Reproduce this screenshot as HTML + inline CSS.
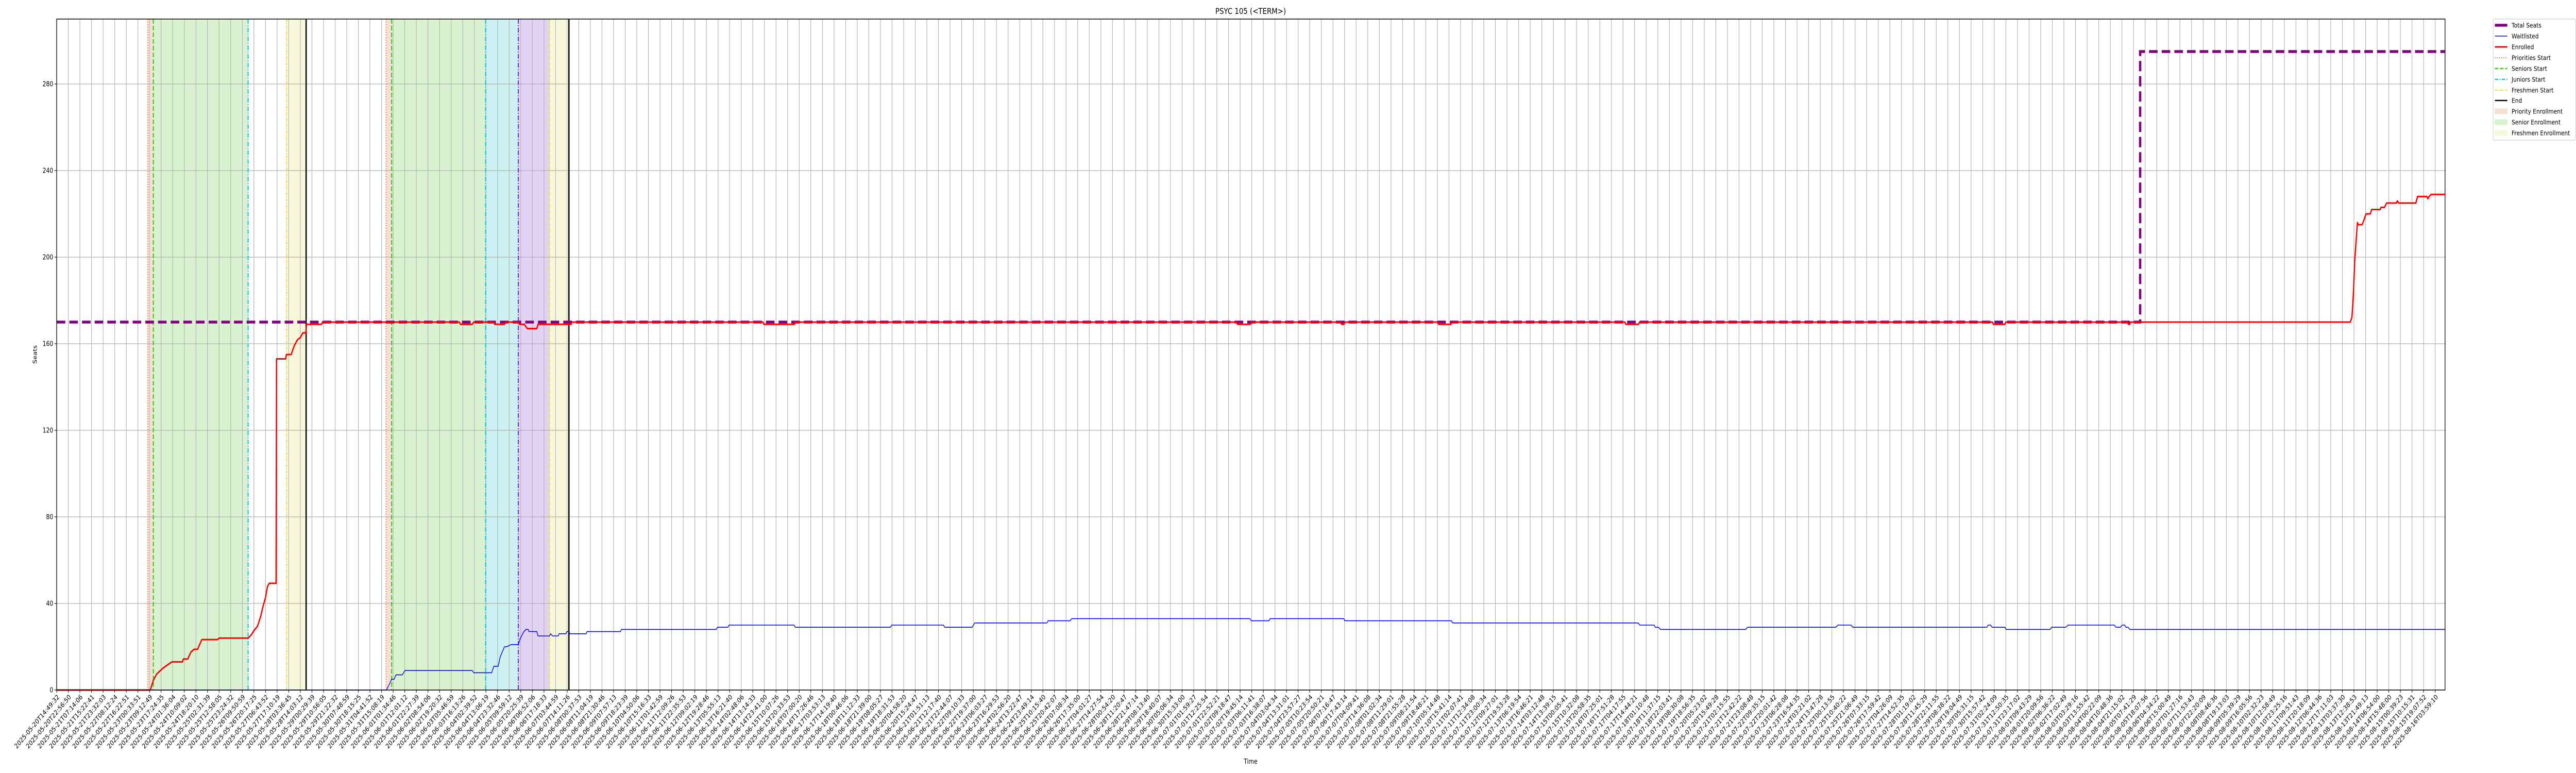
<!DOCTYPE html>
<html><head><meta charset="utf-8"><title>PSYC 105 (&lt;TERM&gt;)</title>
<style>
html,body{margin:0;padding:0;background:#fff;width:100%;height:100%;overflow:hidden;}
svg{display:block;position:absolute;left:0;top:0;width:100vw;height:100vh;font-family:"DejaVu Sans","Liberation Sans",sans-serif;}
</style></head>
<body>
<svg id="chart" viewBox="0 0 6000 1500" preserveAspectRatio="none" overflow="hidden" xmlns="http://www.w3.org/2000/svg">
<rect width="6000" height="1500" fill="#fff"/>
<g id="shades"></g><g id="grid"></g><g id="vlines"></g><g id="series"></g><g id="axes"></g><g id="legend"></g>
<text x="2913" y="27" font-size="16" text-anchor="middle">PSYC 105 (&lt;TERM&gt;)</text>
<text x="86" y="688" font-size="13" text-anchor="middle" transform="rotate(-90 86 688)">Seats</text>
<text x="2913" y="1482" font-size="13" text-anchor="middle">Time</text>
</svg>
<script>
// ---- data ----
const tickStartLabels = ["2025-05-20T14:49:32","2025-05-20T22:56:50","2025-05-21T07:14:06","2025-05-21T15:22:41","2025-05-21T23:32:03","2025-05-22T08:12:24","2025-05-22T16:22:51","2025-05-23T00:33:51","2025-05-23T09:12:49","2025-05-23T17:24:35","2025-05-24T01:36:04","2025-05-24T10:09:02","2025-05-24T18:20:10","2025-05-25T02:31:39"];
const tickEndLabels = ["2025-08-13T03:37:30","2025-08-13T12:38:53","2025-08-13T21:49:13","2025-08-14T06:54:00","2025-08-14T15:48:00","2025-08-15T00:39:23","2025-08-15T10:15:31","2025-08-15T19:07:52","2025-08-16T03:59:10"];
const tickCount = 206;
const yTicks = [0,40,80,120,160,200,240,280];
const seatsX = [0,179.57,179.57,205.85];
const seatsY = [170,170,295,295];
const enrolledX = [0,8.07,8.33,8.62,9.18,9.92,10.84,10.92,11.29,11.58,11.84,12.14,12.32,12.51,13.88,13.99,16.51,16.77,17.02,17.32,17.58,17.80,17.99,18.17,18.32,18.91,18.95,19.73,19.80,20.21,20.47,20.73,21.02,21.21,21.47,21.54,22.83,22.91,34.71,34.79,35.82,35.94,37.68,37.75,38.60,38.71,39.71,39.90,40.30,40.56,41.38,41.49,44.34,44.41,
60.88,60.96,63.58,63.66,101.70,101.78,102.89,102.97,110.66,110.74,110.95,111.03,119.02,119.10,120.17,120.25,135.16,135.24,136.34,136.42,166.84,166.92,167.91,167.99,178.50,178.55,178.68,178.73,
197.67,197.82,197.93,198.08,198.30,198.37,198.70,198.85,199.04,199.41,199.52,200.26,200.33,200.63,200.81,201.66,201.74,201.85,203.33,203.48,204.29,204.37,204.48,204.66,205.85];
const enrolledY = [0,0,4.5,7.4,10.2,13,13,14.3,14.3,17.6,18.8,18.8,21,23.3,23.3,24,24,25.5,27.6,29.6,34,39,42.6,47.9,49.3,49.3,153,153,155,155,159,161.7,163,165,165,169,169,170,170,169,169,170,170,169,169,170,170,169,169,167,167,169,169,170,
170,169,169,170,170,169,169,170,170,169,169,170,170,169,169,170,170,169,169,170,170,169,169,170,170,169,169,170,
170,172,181,199.5,216,215,215,217,220,220,222,222,223,223,225,225,226,225,225,228,228,227,228,229,229];
const waitX = [0,28.42,28.61,28.87,29.09,29.24,29.79,30.01,35.82,35.94,37.49,37.68,38.05,38.23,38.60,38.79,39.16,39.79,39.97,40.27,40.45,40.64,40.71,41.38,41.49,42.49,42.56,42.75,43.23,43.30,43.89,43.97,44.15,44.23,45.63,45.71,48.59,48.67,56.85,56.96,57.85,57.96,63.55,63.66,71.87,71.98,76.43,76.54,78.90,79.13,85.34,85.46,87.34,87.49,102.85,102.96,104.48,104.59,110.92,111.03,120.21,120.32,136.30,136.45,137.68,137.79,138.05,138.23,145.56,145.74,153.33,153.52,154.66,154.81,166.36,166.47,166.69,166.80,167.91,168.02,171.80,171.95,173.17,173.35,177.35,177.50,177.87,178.02,178.24,178.35,178.54,178.68,205.85];
const waitY = [0,0,2,5,5,7,7,9,9,8,8,11,11,15.4,20,20,21,21,24,27,28,28,27,27,25,25,26,25,25,26,26,27,27,26,26,27,27,28,28,29,29,30,30,29,29,30,30,29,29,31,31,32,32,33,33,32,32,33,33,32,32,31,31,30,30,29,29,28,28,29,29,30,30,29,29,30,30,29,29,28,28,29,29,30,30,29,29,30,30,29,29,28,28];
const periodShades = [
 {a:7.85,b:8.33,c:"#f6e0d4",n:"priority-enrollment-1"},{a:8.33,b:16.5,c:"#d9f3d1",n:"senior-enrollment-1"},{a:19.8,b:21.5,c:"#f7f8d9",n:"freshmen-enrollment-1"},
 {a:28.39,b:28.87,c:"#f6e0d4",n:"priority-enrollment-2"},{a:28.87,b:36.97,c:"#d9f3d1",n:"senior-enrollment-2"},{a:36.97,b:39.79,c:"#cdf1f3",n:"junior-enrollment-2"},{a:39.79,b:42.49,c:"#e2d3f5",n:"sophomore-enrollment-2"},{a:42.49,b:44.15,c:"#f7f8d9",n:"freshmen-enrollment-2"}];
const markerLines = [
 {x:7.85,c:"#ee7733",d:"2 3",w:2,n:"priorities-start-1"},{x:8.33,c:"#33cc11",d:"9 4",w:2.5,n:"seniors-start-1"},{x:16.5,c:"#11c6d6",d:"9 3 2 3",w:2.5,n:"juniors-start-1"},{x:19.8,c:"#e4e433",d:"6 2 2 2",w:2,n:"freshmen-start-1"},{x:21.5,c:"#000",d:"",w:3,n:"end-1"},
 {x:28.39,c:"#ee7733",d:"2 3",w:2,n:"priorities-start-2"},{x:28.87,c:"#33cc11",d:"9 4",w:2.5,n:"seniors-start-2"},{x:36.97,c:"#11c6d6",d:"9 3 2 3",w:2.5,n:"juniors-start-2"},{x:39.79,c:"#7030d8",d:"9 3 2 3",w:2.5,n:"sophomores-start-2"},{x:42.49,c:"#e4e433",d:"6 2 2 2",w:2,n:"freshmen-start-2"},{x:44.15,c:"#000",d:"",w:3,n:"end-2"}];

// ---- axes ----
const L=132,R=5695,T=37,B=1339,YMAX=310;
const sx=i=>L+i*(5672-132)/205;
const sy=v=>B-v*(B-T)/YMAX;
const NS="http://www.w3.org/2000/svg";
function mk(tag,attrs,parent){const e=document.createElementNS(NS,tag);for(const k in attrs)e.setAttribute(k,attrs[k]);parent.appendChild(e);return e;}
function pad(n){return String(n).padStart(2,"0");}
function fmt(ms){const d=new Date(ms);return d.getUTCFullYear()+"-"+pad(d.getUTCMonth()+1)+"-"+pad(d.getUTCDate())+"T"+pad(d.getUTCHours())+":"+pad(d.getUTCMinutes())+":"+pad(d.getUTCSeconds());}
const tickLabels=[];
{const t0=Date.parse(tickStartLabels[tickStartLabels.length-1]+"Z"),t1=Date.parse(tickEndLabels[0]+"Z");
 const i0=tickStartLabels.length-1,i1=tickCount-tickEndLabels.length;
 for(let i=0;i<tickCount;i++){
  if(i<tickStartLabels.length)tickLabels.push(tickStartLabels[i]);
  else if(i>=i1)tickLabels.push(tickEndLabels[i-i1]);
  else tickLabels.push(fmt(t0+(t1-t0)*(i-i0)/(i1-i0)));
 }}

const gS=document.getElementById("shades"),gG=document.getElementById("grid"),gV=document.getElementById("vlines"),gSer=document.getElementById("series"),gA=document.getElementById("axes"),gL=document.getElementById("legend");
periodShades.forEach(s=>{const r=mk("rect",{x:sx(s.a),y:T,width:sx(s.b)-sx(s.a),height:B-T,fill:s.c},gS);

});
for(let i=0;i<tickCount;i++){const x=sx(i);
 const g=mk("line",{x1:x,x2:x,y1:T,y2:B,stroke:"#b0b0b0","stroke-width":1.3},gG);
 
 
 mk("line",{x1:x,x2:x,y1:B,y2:B+5,stroke:"#000","stroke-width":1.2},gA);
 const t=mk("text",{x:0,y:0,"font-size":13,"text-anchor":"end",transform:`translate(${x+4},${B+11}) rotate(-45)`,dy:"0.35em"},gA);
 t.textContent=tickLabels[i];
 
 
}
yTicks.forEach(v=>{const y=sy(v);
 const g=mk("line",{x1:L,x2:R,y1:y,y2:y,stroke:"#b0b0b0","stroke-width":1.3},gG);
 
 
 mk("line",{x1:L-5,x2:L,y1:y,y2:y,stroke:"#000","stroke-width":1.2},gA);
 const t=mk("text",{x:L-8,y:y+4.5,"font-size":13,"text-anchor":"end"},gA);
 t.textContent=v;
 
 
});
markerLines.forEach(m=>{const l=mk("line",{x1:sx(m.x),x2:sx(m.x),y1:T,y2:B,stroke:m.c,"stroke-width":m.w},gV);
 if(m.d)l.setAttribute("stroke-dasharray",m.d);
 
 });
function poly(xs,ys,attrs){let d="";for(let i=0;i<xs.length;i++)d+=(i?"L":"M")+sx(xs[i]).toFixed(1)+","+sy(ys[i]).toFixed(1);attrs.d=d;attrs.fill="none";return mk("path",attrs,gSer);}
const pS=poly(seatsX,seatsY,{stroke:"#800080","stroke-width":5.5,"stroke-dasharray":"20 9.5"});


const pW=poly(waitX,waitY,{stroke:"#0000ff","stroke-width":1.6,"stroke-linejoin":"round"});


const pE=poly(enrolledX,enrolledY,{stroke:"#ff0000","stroke-width":3,"stroke-linejoin":"round"});


const fr=mk("rect",{x:L,y:T,width:R-L,height:B-T,fill:"none",stroke:"#000","stroke-width":1.5},gA);



// ---- legend ----
const lb=mk("rect",{x:5807,y:37,width:192,height:235,rx:3,fill:"#fff",stroke:"#cccccc","stroke-width":1.2},gL);


const legendItems=[
 {t:"Total Seats",k:"line",c:"#800080",w:5.5,d:""},{t:"Waitlisted",k:"line",c:"#0000ff",w:1.6,d:""},{t:"Enrolled",k:"line",c:"#ff0000",w:3,d:""},
 {t:"Priorities Start",k:"line",c:"#ee7733",w:2,d:"2 3"},{t:"Seniors Start",k:"line",c:"#33cc11",w:2.5,d:"8 4"},{t:"Juniors Start",k:"line",c:"#11c6d6",w:2.5,d:"8 3 2 3"},
 {t:"Freshmen Start",k:"line",c:"#e4e433",w:2,d:"6 2 2 2"},{t:"End",k:"line",c:"#000",w:2.5,d:""},
 {t:"Priority Enrollment",k:"patch",c:"#f6e0d4"},{t:"Senior Enrollment",k:"patch",c:"#d9f3d1"},{t:"Freshmen Enrollment",k:"patch",c:"#f7f8d9"}];
const legendY=[49,70,91,112,133,154,175,195,216,237,258];
legendItems.forEach((it,i)=>{const y=legendY[i];
 const g=mk("g",{},gL);
 
 
 if(it.k==="line"){const l=mk("line",{x1:5811,x2:5840,y1:y,y2:y,stroke:it.c,"stroke-width":it.w},g);if(it.d)l.setAttribute("stroke-dasharray",it.d);}
 else mk("rect",{x:5811,y:y-5,width:29,height:10,fill:it.c,stroke:it.c},g);
 const t=mk("text",{x:5850,y:y+4.5,"font-size":12.8},g);t.textContent=it.t;
});
</script>
</body></html>
